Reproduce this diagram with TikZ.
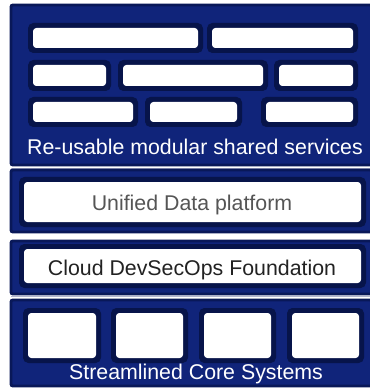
\documentclass[tikz,border=0pt]{standalone}
\usepackage{fontspec}
\setmainfont{Liberation Sans}
\definecolor{panelblue}{RGB}{16,36,122}
\definecolor{paneledge}{RGB}{9,24,88}
\definecolor{tileframe}{RGB}{7,20,74}
\definecolor{sepline}{RGB}{176,180,206}
\definecolor{greytext}{RGB}{85,85,85}
\definecolor{darktext}{RGB}{34,34,34}
\tikzset{
  panel/.style={fill=panelblue,draw=paneledge,line width=2.2pt,rounded corners=1.5pt},
  framefill/.style={fill=tileframe,rounded corners=4pt},
  tilefill/.style={fill=white,rounded corners=2.5pt},
  label/.style={font=\fontsize{16}{18}\selectfont,inner sep=0pt,anchor=base},
}
\newcommand\tile[4]{%
  \fill[framefill] (#1-5,#2-5) rectangle (#3+5,#4+5);
  \fill[tilefill] (#1,#2) rectangle (#3,#4);}
\begin{document}
\begin{tikzpicture}[x=0.75pt,y=-0.75pt]
\useasboundingbox (0,0) rectangle (369,388);
\fill[white] (0,0) rectangle (369,388);
% separators
\draw[sepline,line width=0.9pt] (11,168.5) -- (372,168.5);
\draw[sepline,line width=0.9pt] (11,296.5) -- (372,296.5);
% panel 1
\draw[panel] (11,5) rectangle (372,165);
\tile{33}{28}{198}{48}
\tile{212}{28}{353}{48}
\tile{33}{65}{106}{86}
\tile{123}{65}{263}{86}
\tile{279}{65}{353}{86}
\tile{33}{102}{133}{122}
\tile{150}{102}{237}{122}
\tile{266}{102}{353}{122}
\node[label,text=white] (t1) at (195,155) {Re-usable modular shared services};
% panel 2
\draw[panel] (11,170) rectangle (372,232);
\tile{24}{182}{361}{222}
\node[label,text=greytext] (t2) at (192,210) {Unified Data platform};
% panel 3
\draw[panel] (11,241) rectangle (372,294);
\tile{24}{249}{361}{283}
\node[label,text=darktext] (t3) at (192,275) {Cloud DevSecOps Foundation};
% panel 4
\draw[panel] (11,300) rectangle (372,386);
\tile{28}{313}{96}{358}
\tile{116}{313}{183}{358}
\tile{204}{313}{271}{358}
\tile{292}{313}{359}{358}
\node[label,text=white] (t4) at (196,379) {Streamlined Core Systems};
\end{tikzpicture}
\end{document}
